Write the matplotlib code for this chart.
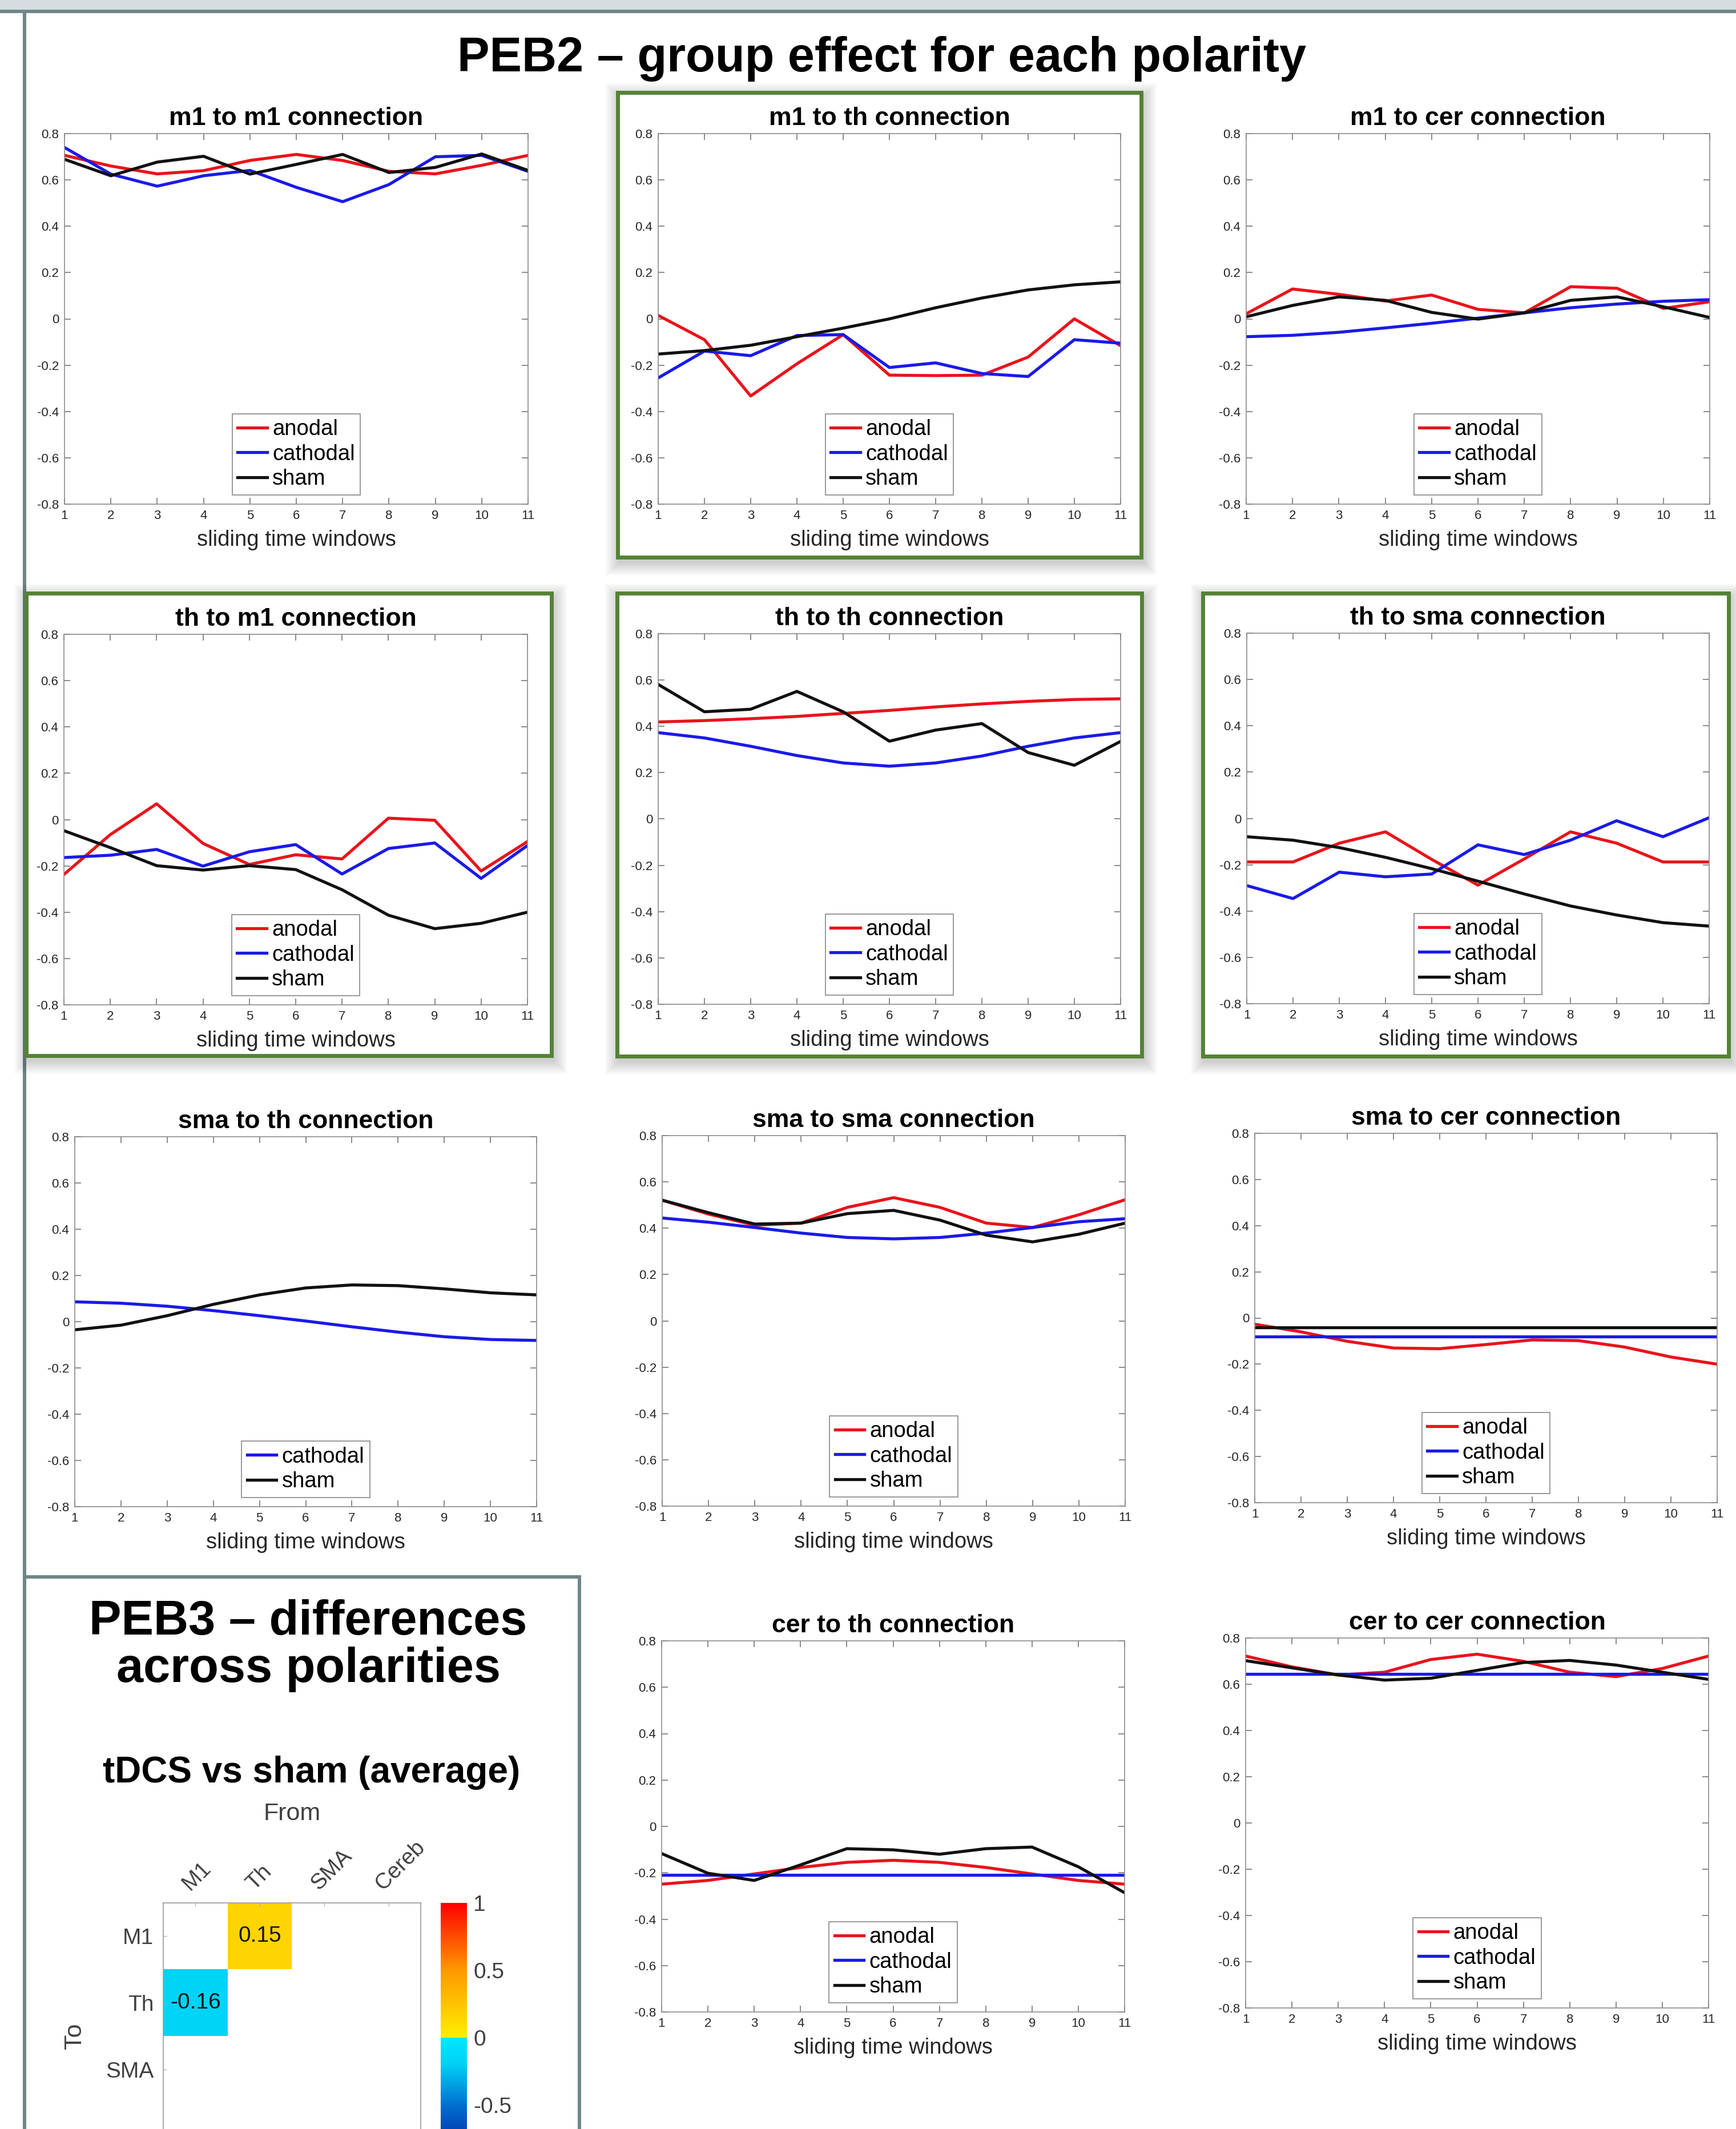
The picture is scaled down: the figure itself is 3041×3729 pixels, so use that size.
import numpy as np
import matplotlib
matplotlib.use("Agg")
import matplotlib.pyplot as plt
from matplotlib.patches import Rectangle
from matplotlib.colors import LinearSegmentedColormap
from matplotlib.transforms import ScaledTranslation

plt.rcParams["font.family"] = ["Liberation Sans", "DejaVu Sans"]
plt.rcParams["axes.unicode_minus"] = False

W, H = 3041, 3729

windows = list(range(1, 12))
yticks = [-0.8, -0.6, -0.4, -0.2, 0, 0.2, 0.4, 0.6, 0.8]
ytick_labels = ["-0.8", "-0.6", "-0.4", "-0.2", "0", "0.2", "0.4", "0.6", "0.8"]

m1_m1_anodal = [0.706, 0.66, 0.626, 0.64, 0.684, 0.71, 0.684, 0.637, 0.626, 0.663, 0.706]
m1_m1_cathodal = [0.74, 0.625, 0.573, 0.618, 0.641, 0.568, 0.506, 0.58, 0.70, 0.706, 0.637]
m1_m1_sham = [0.689, 0.618, 0.677, 0.702, 0.625, 0.667, 0.71, 0.632, 0.654, 0.712, 0.641]

m1_th_anodal = [0.015, -0.09, -0.333, -0.194, -0.068, -0.243, -0.245, -0.243, -0.165, 0.0, -0.116]
m1_th_cathodal = [-0.255, -0.139, -0.159, -0.072, -0.068, -0.21, -0.19, -0.236, -0.249, -0.09, -0.105]
m1_th_sham = [-0.152, -0.137, -0.114, -0.077, -0.04, 0.0, 0.048, 0.09, 0.125, 0.147, 0.16]

m1_cer_anodal = [0.022, 0.129, 0.106, 0.077, 0.103, 0.041, 0.026, 0.139, 0.132, 0.045, 0.074]
m1_cer_cathodal = [-0.077, -0.071, -0.058, -0.039, -0.019, 0.003, 0.026, 0.048, 0.064, 0.076, 0.083]
m1_cer_sham = [0.009, 0.058, 0.095, 0.08, 0.028, -0.001, 0.026, 0.08, 0.095, 0.052, 0.006]

th_m1_anodal = [-0.237, -0.065, 0.068, -0.103, -0.194, -0.152, -0.17, 0.006, -0.003, -0.222, -0.095]
th_m1_cathodal = [-0.164, -0.154, -0.129, -0.201, -0.139, -0.108, -0.235, -0.125, -0.101, -0.254, -0.112]
th_m1_sham = [-0.048, -0.121, -0.199, -0.218, -0.199, -0.216, -0.303, -0.413, -0.471, -0.448, -0.40]

th_th_anodal = [0.419, 0.425, 0.433, 0.443, 0.456, 0.469, 0.484, 0.497, 0.508, 0.516, 0.519]
th_th_cathodal = [0.373, 0.35, 0.314, 0.274, 0.242, 0.228, 0.242, 0.272, 0.314, 0.35, 0.373]
th_th_sham = [0.581, 0.463, 0.474, 0.551, 0.463, 0.336, 0.384, 0.412, 0.287, 0.232, 0.335]

th_sma_anodal = [-0.188, -0.188, -0.107, -0.058, -0.177, -0.288, -0.175, -0.058, -0.107, -0.188, -0.188]
th_sma_cathodal = [-0.29, -0.346, -0.232, -0.252, -0.24, -0.114, -0.156, -0.094, -0.01, -0.079, 0.003]
th_sma_sham = [-0.079, -0.094, -0.126, -0.168, -0.217, -0.271, -0.326, -0.378, -0.417, -0.45, -0.465]

sma_th_cathodal = [0.086, 0.08, 0.067, 0.048, 0.026, 0.003, -0.022, -0.045, -0.065, -0.077, -0.081]
sma_th_sham = [-0.035, -0.015, 0.026, 0.075, 0.116, 0.146, 0.159, 0.156, 0.142, 0.125, 0.116]

sma_sma_anodal = [0.521, 0.461, 0.413, 0.422, 0.49, 0.532, 0.49, 0.422, 0.403, 0.458, 0.523]
sma_sma_cathodal = [0.444, 0.426, 0.403, 0.379, 0.36, 0.354, 0.36, 0.379, 0.403, 0.428, 0.441]
sma_sma_sham = [0.521, 0.467, 0.418, 0.422, 0.463, 0.477, 0.435, 0.37, 0.341, 0.374, 0.422]

sma_cer_anodal = [-0.027, -0.06, -0.101, -0.13, -0.133, -0.115, -0.095, -0.098, -0.126, -0.169, -0.2]
sma_cer_cathodal = [-0.081] * 11
sma_cer_sham = [-0.041] * 11

cer_th_anodal = [-0.249, -0.233, -0.205, -0.177, -0.155, -0.146, -0.155, -0.177, -0.205, -0.233, -0.249]
cer_th_cathodal = [-0.21] * 11
cer_th_sham = [-0.117, -0.202, -0.233, -0.166, -0.096, -0.101, -0.12, -0.096, -0.089, -0.174, -0.286]

cer_cer_anodal = [0.722, 0.675, 0.64, 0.652, 0.707, 0.73, 0.699, 0.652, 0.633, 0.668, 0.722]
cer_cer_cathodal = [0.644] * 11
cer_cer_sham = [0.702, 0.671, 0.64, 0.618, 0.626, 0.66, 0.694, 0.703, 0.683, 0.652, 0.621]

regions = ["M1", "Th", "SMA", "Cereb"]
# last row label falls below the bottom edge of the poster, so it is not shown
row_labels = ["M1", "Th", "SMA", ""]
peb3_values = np.array([
    [0.0, 0.15, 0.0, 0.0],
    [-0.16, 0.0, 0.0, 0.0],
    [0.0, 0.0, 0.0, 0.0],
    [0.0, 0.0, 0.0, 0.0],
])
cbar_ticks = [-0.5, 0, 0.5, 1]
cbar_labels = ["-0.5", "0", "0.5", "1"]

colors = {"anodal": "#e8141c", "cathodal": "#1a1ae8", "sham": "#111111"}

# title, series, axes box in pixels (left, top, right, bottom)
panels = [
    ("m1 to m1 connection", {"anodal": m1_m1_anodal, "cathodal": m1_m1_cathodal, "sham": m1_m1_sham}, (113, 234, 925, 883)),
    ("m1 to th connection", {"anodal": m1_th_anodal, "cathodal": m1_th_cathodal, "sham": m1_th_sham}, (1153, 234, 1963, 883)),
    ("m1 to cer connection", {"anodal": m1_cer_anodal, "cathodal": m1_cer_cathodal, "sham": m1_cer_sham}, (2183, 234, 2995, 883)),
    ("th to m1 connection", {"anodal": th_m1_anodal, "cathodal": th_m1_cathodal, "sham": th_m1_sham}, (112, 1111, 924, 1760)),
    ("th to th connection", {"anodal": th_th_anodal, "cathodal": th_th_cathodal, "sham": th_th_sham}, (1153, 1110, 1963, 1759)),
    ("th to sma connection", {"anodal": th_sma_anodal, "cathodal": th_sma_cathodal, "sham": th_sma_sham}, (2184, 1109, 2994, 1758)),
    ("sma to th connection", {"cathodal": sma_th_cathodal, "sham": sma_th_sham}, (131, 1991, 940, 2639)),
    ("sma to sma connection", {"anodal": sma_sma_anodal, "cathodal": sma_sma_cathodal, "sham": sma_sma_sham}, (1160, 1989, 1971, 2638)),
    ("sma to cer connection", {"anodal": sma_cer_anodal, "cathodal": sma_cer_cathodal, "sham": sma_cer_sham}, (2198, 1985, 3008, 2632)),
    ("cer to th connection", {"anodal": cer_th_anodal, "cathodal": cer_th_cathodal, "sham": cer_th_sham}, (1159, 2874, 1970, 3524)),
    ("cer to cer connection", {"anodal": cer_cer_anodal, "cathodal": cer_cer_cathodal, "sham": cer_cer_sham}, (2182, 2869, 2993, 3517)),
]

green_boxes = [(1082, 162, 1999, 976), (46, 1039, 966, 1849), (1081, 1039, 2000, 1850), (2107, 1039, 3028, 1850)]

frame_col = "#6f8688"
green = "#548235"

fig = plt.figure(figsize=(W / 100, H / 100), dpi=100)


def px_axes(x0, y0, x1, y1):
    return fig.add_axes([x0 / W, 1 - y1 / H, (x1 - x0) / W, (y1 - y0) / H])


bg = fig.add_axes([0, 0, 1, 1])
bg.set_xlim(0, W)
bg.set_ylim(H, 0)
bg.axis("off")

bg.add_patch(Rectangle((0, 0), W, 18, color="#d5dde0", lw=0))
bg.add_patch(Rectangle((0, 17), W, 6, color=frame_col, lw=0))
bg.add_patch(Rectangle((40, 17), 6, H, color=frame_col, lw=0))
bg.add_patch(Rectangle((40, 2759), 978, 6, color=frame_col, lw=0))
bg.add_patch(Rectangle((1012, 2759), 6, H, color=frame_col, lw=0))

for x0, y0, x1, y1 in green_boxes:
    for i in range(1, 9):
        d = i * 3
        bg.add_patch(Rectangle((x0 - d + 3, y0 - d + 8), x1 - x0 + 2 * d, y1 - y0 + 2 * d,
                               facecolor="black", alpha=0.022, lw=0))
    bg.add_patch(Rectangle((x0, y0), x1 - x0, y1 - y0, facecolor="white", edgecolor=green, lw=5))

bg.text(1545, 125, "PEB2 – group effect for each polarity", fontsize=61, fontweight="bold",
        ha="center", va="baseline")
bg.text(540, 2863, "PEB3 – differences", fontsize=61, fontweight="bold", ha="center", va="baseline")
bg.text(540, 2946, "across polarities", fontsize=61, fontweight="bold", ha="center", va="baseline")
bg.text(546, 3122, "tDCS vs sham (average)", fontsize=46, fontweight="bold", ha="center", va="baseline")

for title, series, box in panels:
    ax = px_axes(*box)
    for name, vals in series.items():
        ax.plot(windows, vals, color=colors[name], lw=3.8, label=name)
    ax.set_xlim(1, 11)
    ax.set_ylim(-0.8, 0.8)
    ax.set_xticks(windows)
    ax.set_yticks(yticks)
    ax.set_yticklabels(ytick_labels)
    ax.tick_params(direction="in", top=True, right=True, length=8, width=1.2, color="#777777",
                   labelsize=16, labelcolor="#262626", pad=7)
    for sp in ax.spines.values():
        sp.set_color("#8c8c8c")
        sp.set_linewidth(1.2)
    ax.set_title(title, fontsize=32, fontweight="bold", pad=11)
    ax.set_xlabel("sliding time windows", fontsize=27.5, color="#262626", labelpad=10)
    leg = ax.legend(loc="lower center", fontsize=27.5, fancybox=False, edgecolor="#888888",
                    framealpha=1, handlelength=1.35, handletextpad=0.25, labelspacing=0.2,
                    borderpad=0.25, borderaxespad=0.42)
    leg.get_frame().set_linewidth(1.2)

cmap = LinearSegmentedColormap.from_list("peb", [
    (0.0, "#00008f"), (0.25, "#0070d0"), (0.4, "#00d0f5"), (0.499, "#00e8ff"), (0.5, "#ffffff"),
    (0.501, "#ffee00"), (0.75, "#ff9900"), (1.0, "#ff0000")])

axh = px_axes(286, 3333, 737, 3800)
masked = np.ma.masked_equal(peb3_values, 0)
im = axh.imshow(masked, cmap=cmap, vmin=-1, vmax=1, aspect="auto")
for i in range(len(regions)):
    for j in range(len(regions)):
        if peb3_values[i, j] != 0:
            axh.text(j, i, f"{peb3_values[i, j]:.2f}", ha="center", va="center", fontsize=28, color="#111111")
axh.xaxis.tick_top()
axh.set_xticks(range(len(regions)))
axh.set_yticks(range(len(regions)))
axh.set_xticklabels(regions, rotation=45, ha="left", va="center", rotation_mode="anchor")
axh.set_yticklabels(row_labels)
axh.tick_params(axis="x", direction="in", length=4, color="#aaaaaa", labelsize=28, labelcolor="#404040", pad=20)
axh.tick_params(axis="y", direction="in", length=4, color="#aaaaaa", labelsize=28, labelcolor="#404040", pad=12)
for lbl in axh.get_xticklabels():
    lbl.set_transform(lbl.get_transform() + ScaledTranslation(-0.17, 0, fig.dpi_scale_trans))
for sp in axh.spines.values():
    sp.set_color("#999999")
    sp.set_linewidth(1.2)
axh.xaxis.set_label_position("top")
axh.set_xlabel("From", fontsize=31, color="#404040")
axh.xaxis.set_label_coords(0.5, 1.31)
axh.set_ylabel("To", fontsize=31, color="#404040")
axh.yaxis.set_label_coords(-0.30, 0.5)

cax = px_axes(772, 3333, 818, 3805)
cb = fig.colorbar(im, cax=cax, ticks=cbar_ticks)
cb.ax.set_yticklabels(cbar_labels)
cb.ax.tick_params(length=0, labelsize=28, labelcolor="#404040", pad=8)
cb.outline.set_visible(False)

fig.savefig("out.png", dpi=100)
